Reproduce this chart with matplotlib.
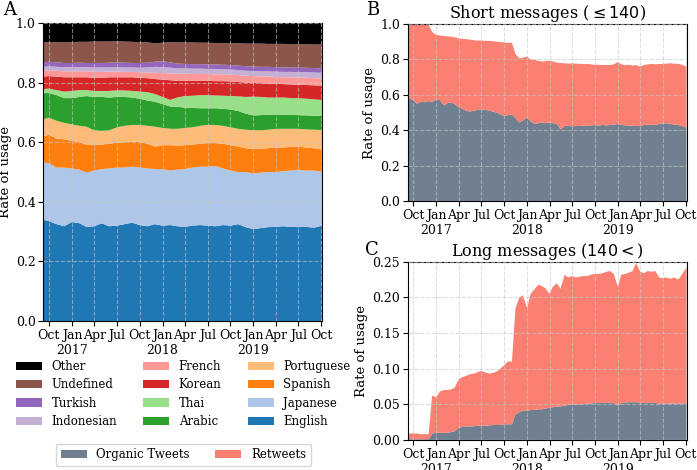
import numpy as np
import pandas as pd
import matplotlib
matplotlib.use('Agg')
import matplotlib.pyplot as plt
import matplotlib.dates as mdates
from matplotlib.ticker import FuncFormatter, MultipleLocator

plt.rcParams['font.family'] = 'DejaVu Serif'

# ---- panel A: monthly, upper edge of each language band
dates_a = pd.to_datetime(['2016-09-08']
                         + [d.strftime('%Y-%m-%d') for d in pd.date_range('2016-10-01', '2019-09-01', freq='MS')]
                         + ['2019-10-04'])

edge_english = [0.340, 0.335, 0.325, 0.318, 0.332, 0.328, 0.316, 0.318, 0.328, 0.318, 0.320, 0.325, 0.330,
                0.322, 0.318, 0.325, 0.320, 0.322, 0.318, 0.316, 0.320, 0.322, 0.320, 0.318, 0.322,
                0.320, 0.325, 0.315, 0.308, 0.312, 0.315, 0.316, 0.318, 0.316, 0.315, 0.316, 0.313, 0.320]
edge_japanese = [0.532, 0.530, 0.515, 0.515, 0.512, 0.508, 0.498, 0.505, 0.510, 0.512, 0.515, 0.515, 0.518,
                 0.515, 0.512, 0.510, 0.510, 0.505, 0.508, 0.510, 0.515, 0.518, 0.518, 0.520, 0.512,
                 0.505, 0.500, 0.500, 0.495, 0.498, 0.500, 0.500, 0.503, 0.505, 0.508, 0.505, 0.505, 0.501]
edge_spanish = [0.620, 0.625, 0.612, 0.610, 0.605, 0.600, 0.592, 0.590, 0.592, 0.595, 0.598, 0.600, 0.602,
                0.600, 0.595, 0.585, 0.590, 0.590, 0.588, 0.590, 0.592, 0.595, 0.597, 0.597, 0.595,
                0.590, 0.585, 0.580, 0.577, 0.578, 0.580, 0.582, 0.582, 0.585, 0.585, 0.582, 0.580, 0.576]
edge_portuguese = [0.677, 0.682, 0.672, 0.665, 0.660, 0.655, 0.652, 0.640, 0.638, 0.640, 0.650, 0.655, 0.658,
                   0.658, 0.655, 0.652, 0.648, 0.645, 0.645, 0.648, 0.650, 0.655, 0.658, 0.658, 0.655,
                   0.650, 0.645, 0.642, 0.640, 0.640, 0.642, 0.645, 0.645, 0.645, 0.645, 0.643, 0.642, 0.641]
edge_arabic = [0.765, 0.765, 0.758, 0.748, 0.748, 0.752, 0.755, 0.752, 0.752, 0.750, 0.752, 0.752, 0.750,
               0.746, 0.740, 0.736, 0.728, 0.720, 0.719, 0.716, 0.715, 0.714, 0.714, 0.714, 0.712,
               0.710, 0.705, 0.696, 0.690, 0.691, 0.692, 0.693, 0.692, 0.692, 0.691, 0.690, 0.689, 0.688]
edge_thai = [0.778, 0.780, 0.775, 0.770, 0.772, 0.775, 0.775, 0.772, 0.772, 0.772, 0.774, 0.774, 0.772,
             0.770, 0.768, 0.762, 0.752, 0.742, 0.750, 0.755, 0.756, 0.758, 0.758, 0.757, 0.756,
             0.755, 0.754, 0.752, 0.753, 0.752, 0.750, 0.750, 0.750, 0.748, 0.748, 0.746, 0.744, 0.742]
edge_korean = [0.820, 0.822, 0.820, 0.818, 0.818, 0.818, 0.818, 0.816, 0.816, 0.818, 0.818, 0.818, 0.818,
               0.816, 0.815, 0.812, 0.810, 0.808, 0.806, 0.806, 0.806, 0.806, 0.806, 0.805, 0.805,
               0.804, 0.802, 0.800, 0.800, 0.798, 0.797, 0.796, 0.795, 0.794, 0.793, 0.792, 0.791, 0.790]
edge_french = [0.840, 0.842, 0.840, 0.838, 0.838, 0.838, 0.838, 0.837, 0.836, 0.837, 0.837, 0.836, 0.836,
               0.835, 0.834, 0.833, 0.832, 0.831, 0.830, 0.830, 0.829, 0.829, 0.829, 0.828, 0.828,
               0.827, 0.825, 0.823, 0.822, 0.821, 0.820, 0.819, 0.818, 0.818, 0.817, 0.816, 0.815, 0.814]
edge_indonesian = [0.853, 0.855, 0.853, 0.852, 0.852, 0.852, 0.852, 0.851, 0.851, 0.851, 0.852, 0.851, 0.851,
                   0.850, 0.851, 0.853, 0.852, 0.850, 0.848, 0.848, 0.847, 0.847, 0.846, 0.846, 0.845,
                   0.844, 0.842, 0.840, 0.839, 0.838, 0.838, 0.837, 0.836, 0.836, 0.835, 0.835, 0.834, 0.833]
edge_turkish = [0.868, 0.870, 0.868, 0.866, 0.866, 0.867, 0.866, 0.866, 0.866, 0.867, 0.868, 0.867, 0.866,
                0.866, 0.867, 0.870, 0.872, 0.868, 0.864, 0.863, 0.862, 0.862, 0.861, 0.861, 0.860,
                0.859, 0.857, 0.855, 0.854, 0.853, 0.853, 0.852, 0.851, 0.851, 0.850, 0.850, 0.849, 0.848]
edge_undefined = [0.935, 0.936, 0.936, 0.935, 0.936, 0.937, 0.937, 0.938, 0.938, 0.938, 0.939, 0.938, 0.937,
                  0.936, 0.935, 0.932, 0.934, 0.936, 0.935, 0.935, 0.935, 0.934, 0.934, 0.933, 0.933,
                  0.932, 0.932, 0.931, 0.931, 0.931, 0.930, 0.930, 0.930, 0.929, 0.929, 0.929, 0.928, 0.928]

languages = ['English', 'Japanese', 'Spanish', 'Portuguese', 'Arabic', 'Thai',
             'Korean', 'French', 'Indonesian', 'Turkish', 'Undefined', 'Other']
lang_colors = ['#1f77b4', '#aec7e8', '#ff7f0e', '#ffbb78', '#2ca02c', '#98df8a',
               '#d62728', '#ff9896', '#c5b0d5', '#9467bd', '#8c564b', 'black']

# ---- panels B and C: twice a month
dates_bc = pd.to_datetime(['2016-09-08']
                          + [d.strftime('%Y-%m-%d') for d in pd.date_range('2016-09-15', '2019-09-15', freq='SMS')]
                          + ['2019-10-04'])

short_organic = [0.585, 0.580, 0.570, 0.550, 0.562, 0.558, 0.565, 0.560, 0.575, 0.570, 0.540, 0.555, 0.556, 0.550,
                 0.530, 0.522, 0.510, 0.506, 0.510, 0.515, 0.519, 0.515, 0.512, 0.506, 0.500, 0.490, 0.481, 0.485,
                 0.489, 0.470, 0.444, 0.455, 0.474, 0.450, 0.436, 0.440, 0.445, 0.440, 0.444, 0.440, 0.436, 0.405,
                 0.425, 0.425, 0.422, 0.425, 0.424, 0.426, 0.425, 0.428, 0.429, 0.427, 0.430, 0.428, 0.430, 0.432,
                 0.436, 0.430, 0.428, 0.427, 0.425, 0.428, 0.422, 0.430, 0.432, 0.430, 0.432, 0.435, 0.438, 0.440,
                 0.436, 0.432, 0.430, 0.425, 0.414]
short_total = [0.994, 0.994, 0.994, 0.994, 0.994, 0.994, 0.994, 0.955, 0.938, 0.935, 0.932, 0.930, 0.929, 0.925,
               0.919, 0.916, 0.914, 0.912, 0.908, 0.906, 0.906, 0.905, 0.905, 0.903, 0.900, 0.898, 0.895, 0.894,
               0.893, 0.830, 0.806, 0.810, 0.816, 0.800, 0.797, 0.792, 0.788, 0.790, 0.793, 0.788, 0.782, 0.780,
               0.778, 0.776, 0.778, 0.776, 0.775, 0.774, 0.774, 0.772, 0.769, 0.770, 0.768, 0.769, 0.768, 0.772,
               0.785, 0.772, 0.768, 0.770, 0.765, 0.768, 0.759, 0.768, 0.772, 0.774, 0.773, 0.774, 0.775, 0.776,
               0.778, 0.776, 0.775, 0.770, 0.759]
long_organic = [0.001, 0.001, 0.001, 0.001, 0.001, 0.001, 0.001, 0.009, 0.010, 0.010, 0.010, 0.010, 0.011, 0.012,
                0.017, 0.018, 0.019, 0.019, 0.019, 0.020, 0.020, 0.020, 0.020, 0.021, 0.021, 0.021, 0.022, 0.022,
                0.022, 0.036, 0.039, 0.041, 0.041, 0.042, 0.042, 0.043, 0.043, 0.044, 0.045, 0.046, 0.047, 0.047,
                0.048, 0.049, 0.049, 0.050, 0.050, 0.050, 0.051, 0.051, 0.052, 0.052, 0.052, 0.052, 0.052, 0.052,
                0.048, 0.052, 0.052, 0.053, 0.053, 0.053, 0.052, 0.052, 0.052, 0.052, 0.052, 0.051, 0.051, 0.051,
                0.051, 0.051, 0.051, 0.051, 0.051]
long_total = [0.009, 0.009, 0.009, 0.009, 0.008, 0.008, 0.008, 0.062, 0.060, 0.068, 0.070, 0.070, 0.071, 0.073,
              0.085, 0.088, 0.090, 0.092, 0.093, 0.095, 0.097, 0.095, 0.093, 0.094, 0.096, 0.100, 0.105, 0.110,
              0.110, 0.185, 0.200, 0.203, 0.185, 0.205, 0.212, 0.218, 0.216, 0.213, 0.205, 0.215, 0.220, 0.212,
              0.232, 0.228, 0.230, 0.228, 0.229, 0.230, 0.230, 0.232, 0.233, 0.233, 0.234, 0.236, 0.237, 0.233,
              0.215, 0.232, 0.233, 0.235, 0.237, 0.248, 0.236, 0.234, 0.237, 0.236, 0.237, 0.228, 0.227, 0.228,
              0.226, 0.228, 0.225, 0.232, 0.242]

c_organic = 'slategray'
c_retweet = 'salmon'


def date_fmt(x, pos=None):
    d = mdates.num2date(x)
    if d.month == 1:
        return 'Jan\n%d' % d.year
    return d.strftime('%b')


def style_axis(ax, start, end):
    ax.set_xlim(start, end)
    ax.xaxis.set_major_locator(mdates.MonthLocator(bymonth=[1, 4, 7, 10]))
    ax.xaxis.set_major_formatter(FuncFormatter(date_fmt))
    ax.tick_params(labelsize=9, pad=2)
    ax.set_axisbelow(False)
    ax.grid(True, linestyle='--', color='#c8c8c8', alpha=0.6, linewidth=0.8)
    ax.set_ylabel('Rate of usage', fontsize=9.5, labelpad=3)


fig = plt.figure(figsize=(6.97, 4.70), dpi=100)

# A
ax_a = fig.add_axes([0.062, 0.317, 0.40, 0.634])
edges = np.vstack([np.zeros(len(dates_a)), edge_english, edge_japanese, edge_spanish, edge_portuguese,
                   edge_arabic, edge_thai, edge_korean, edge_french, edge_indonesian, edge_turkish,
                   edge_undefined, np.ones(len(dates_a))])
shares = np.diff(edges, axis=0)
polys = ax_a.stackplot(dates_a, shares, colors=lang_colors, labels=languages, linewidth=0)
ax_a.set_ylim(0, 1)
ax_a.yaxis.set_major_locator(MultipleLocator(0.2))
style_axis(ax_a, dates_a[0], dates_a[-1])

# B
ax_b = fig.add_axes([0.585, 0.572, 0.40, 0.377])
s_org = np.array(short_organic)
s_rt = np.array(short_total) - s_org
pb = ax_b.stackplot(dates_bc, s_org, s_rt, colors=[c_organic, c_retweet],
                    labels=['Organic Tweets', 'Retweets'], linewidth=0)
ax_b.set_ylim(0, 1)
ax_b.yaxis.set_major_locator(MultipleLocator(0.2))
style_axis(ax_b, dates_bc[0], dates_bc[-1])
ax_b.set_title(r'Short messages ($\leq 140$)', fontsize=11.5, pad=3)

# C
ax_c = fig.add_axes([0.585, 0.064, 0.40, 0.379])
l_org = np.array(long_organic)
l_rt = np.array(long_total) - l_org
ax_c.stackplot(dates_bc, l_org, l_rt, colors=[c_organic, c_retweet], linewidth=0)
ax_c.set_ylim(0, 0.25)
ax_c.yaxis.set_major_locator(MultipleLocator(0.05))
ax_c.yaxis.set_major_formatter(FuncFormatter(lambda v, p: '%.2f' % v))
style_axis(ax_c, dates_bc[0], dates_bc[-1])
ax_c.set_title(r'Long messages ($140<$)', fontsize=11.5, pad=3)

# legends
fig.legend(polys[::-1], languages[::-1], loc='center', bbox_to_anchor=(0.263, 0.162), ncol=3,
           frameon=False, fontsize=8.5, handlelength=2.2, labelspacing=0.45, columnspacing=2.2)
fig.legend(pb, ['Organic Tweets', 'Retweets'], loc='center', bbox_to_anchor=(0.263, 0.032), ncol=2,
           frameon=True, fontsize=8.5, handlelength=2.2, columnspacing=2.2)

fig.text(0.005, 0.997, 'A', fontsize=13, va='top')
fig.text(0.525, 0.997, 'B', fontsize=13, va='top')
fig.text(0.523, 0.487, 'C', fontsize=13, va='top')

fig.savefig('out.png', dpi=100)
